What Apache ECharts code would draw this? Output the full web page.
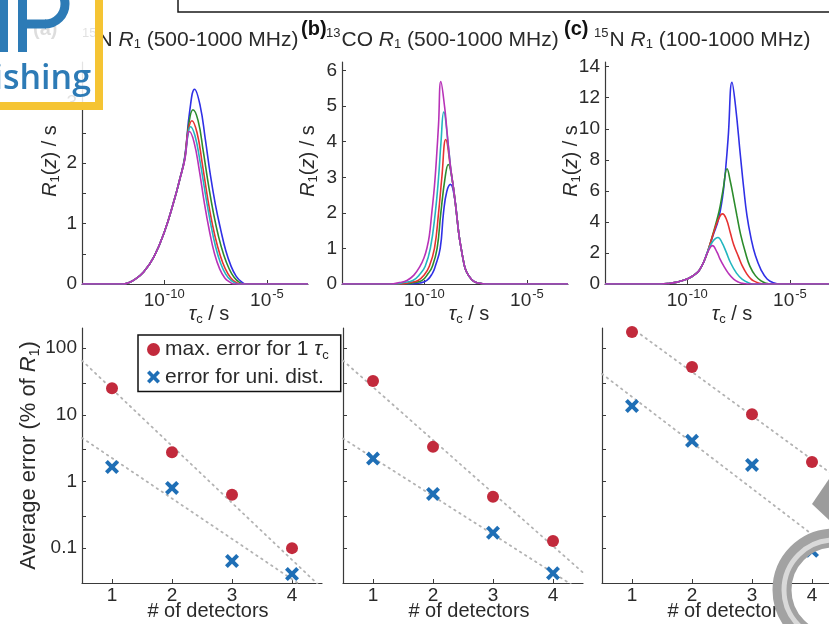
<!DOCTYPE html>
<html>
<head>
<meta charset="utf-8">
<script src="https://cdn.jsdelivr.net/npm/echarts@6.0.0/dist/echarts.min.js"></script>
<style>
html,body{margin:0;padding:0;background:#fff;}
#chart{width:829px;height:624px;}
</style>
</head>
<body>
<div id="chart"></div>
<script>
// ================= DATA =================
// Top row: detector sensitivities R1(z) vs log10(tau_c / s)
const tauTickExponents = [-10, -5];
const topYMax = [3.67, 6.24, 14.3];
const topYTicks = [[0,0.5,1,1.5,2,2.5,3,3.5],[0,1,2,3,4,5,6],[0,2,4,6,8,10,12,14]];
const topYLabels = [[0,1,2,3],[0,1,2,3,4,5,6],[0,2,4,6,8,10,12,14]];

// panel (a) 15N R1 (500-1000 MHz): common rising flank + individual tails
const aRise = [[-14,0],[-12,0],[-11.75,0.02],[-11.5,0.06],[-11,0.2],[-10.5,0.45],[-10,0.85],[-9.5,1.4],[-9.25,1.72]];
const aBlue = [[-9,2.1],[-8.75,2.88],[-8.52,3.22],[-8.25,2.95],[-8,2.4],[-7.75,1.8],[-7.5,1.3],[-7.25,0.9],[-7,0.55],[-6.75,0.3],[-6.5,0.13],[-6.25,0.04],[-6,0],[-3,0]];
const aGreen = [[-9,2.08],[-8.8,2.65],[-8.6,2.88],[-8.35,2.7],[-8.1,2.2],[-7.85,1.65],[-7.6,1.17],[-7.35,0.78],[-7.1,0.48],[-6.85,0.26],[-6.6,0.11],[-6.35,0.03],[-6.1,0],[-3,0]];
const aRed = [[-9,2.07],[-8.85,2.5],[-8.65,2.7],[-8.4,2.5],[-8.15,2.0],[-7.9,1.45],[-7.65,0.98],[-7.4,0.62],[-7.15,0.35],[-6.9,0.17],[-6.65,0.06],[-6.4,0.01],[-6.2,0],[-3,0]];
const aCyan = [[-9,2.06],[-8.85,2.45],[-8.72,2.6],[-8.5,2.45],[-8.25,2.02],[-8,1.5],[-7.75,1.02],[-7.5,0.62],[-7.25,0.34],[-7,0.16],[-6.75,0.06],[-6.5,0.01],[-6.3,0],[-3,0]];
const aMagenta = [[-9,2.05],[-8.77,2.52],[-8.55,2.35],[-8.3,1.9],[-8.05,1.35],[-7.8,0.88],[-7.55,0.5],[-7.3,0.25],[-7.05,0.1],[-6.8,0.03],[-6.6,0],[-3,0]];

// panel (b) 13CO R1 (500-1000 MHz): individual rising flanks + common falling flank
const bBlue = [[-14,0],[-10.7,0],[-10.2,0.03],[-9.87,0.1],[-9.6,0.3],[-9.46,0.5],[-9.22,1.0],[-9.06,2.0],[-8.9,2.6],[-8.72,2.8]];
const bGreen = [[-14,0],[-10.9,0],[-10.5,0.04],[-10.1,0.1],[-9.8,0.3],[-9.6,0.5],[-9.37,1.0],[-9.19,2.0],[-8.98,3.0],[-8.83,3.36]];
const bRed = [[-14,0],[-11.1,0],[-10.7,0.04],[-10.3,0.1],[-10,0.25],[-9.75,0.5],[-9.5,1.0],[-9.3,2.0],[-9.14,3.0],[-8.95,4.06]];
const bCyan = [[-14,0],[-11.4,0],[-11,0.04],[-10.55,0.1],[-10.2,0.28],[-9.95,0.5],[-9.7,1.0],[-9.46,2.0],[-9.3,3.0],[-9.18,4.0],[-9.05,4.83]];
const bMagenta = [[-14,0],[-11.66,0],[-11.2,0.04],[-10.84,0.1],[-10.5,0.25],[-10.2,0.5],[-10,0.75],[-9.87,1.0],[-9.75,1.35],[-9.63,2.0],[-9.5,2.75],[-9.4,3.55],[-9.3,4.5],[-9.19,5.69]];
const bFall = [[-9.1,5.45],[-9.0,4.95],[-8.9,4.35],[-8.8,3.75],[-8.7,3.2],[-8.6,2.8],[-8.5,2.35],[-8.4,1.85],[-8.3,1.35],[-8.2,1.0],[-8.1,0.68],[-8.0,0.43],[-7.85,0.25],[-7.6,0.08],[-7.3,0.02],[-7.0,0],[-3,0]];

// panel (c) 15N R1 (100-1000 MHz): common rising flank + individual tails
const cRise = [[-14,0],[-11.3,0],[-10.83,0.05],[-10.5,0.12],[-10,0.32],[-9.75,0.5],[-9.5,0.75],[-9.37,0.97],[-9.2,1.4]];
const cBlue = [[-9.0,2.1],[-8.75,3.1],[-8.47,4.2],[-8.23,6.1],[-8.01,9.35],[-7.82,13.0],[-7.65,11.5],[-7.41,8.28],[-7.25,6.2],[-7.09,4.4],[-6.9,3.0],[-6.68,1.83],[-6.4,0.9],[-6.11,0.32],[-5.8,0.08],[-5.46,0],[-3,0]];
const cGreen = [[-9.0,2.1],[-8.75,3.2],[-8.5,4.4],[-8.39,5.05],[-8.25,6.1],[-8.06,7.42],[-7.9,6.6],[-7.75,5.6],[-7.58,4.4],[-7.4,3.2],[-7.17,2.04],[-6.95,1.15],[-6.68,0.54],[-6.4,0.2],[-6.15,0.05],[-5.95,0],[-3,0]];
const cRed = [[-9.0,2.1],[-8.75,3.15],[-8.5,4.1],[-8.28,4.52],[-8.1,4.2],[-7.9,3.3],[-7.74,2.55],[-7.5,1.75],[-7.33,1.2],[-7.1,0.65],[-6.9,0.33],[-6.77,0.2],[-6.5,0.05],[-6.29,0],[-3,0]];
const cCyan = [[-9.0,2.1],[-8.75,2.75],[-8.5,3.0],[-8.3,2.65],[-8.1,2.05],[-7.9,1.4],[-7.6,0.7],[-7.33,0.32],[-7.05,0.1],[-6.78,0],[-3,0]];
const cMagenta = [[-9.0,2.05],[-8.77,2.47],[-8.55,2.05],[-8.4,1.6],[-8.23,1.18],[-8.0,0.7],[-7.74,0.32],[-7.5,0.12],[-7.3,0.04],[-7.09,0],[-3,0]];

// Bottom row: average error (% of R1) vs number of detectors
const detectors = [1, 2, 3, 4];
const aMaxErr = [25, 2.75, 0.63, 0.1];
const aUniErr = [1.65, 0.8, 0.064, 0.041];
const bMaxErr = [32, 3.3, 0.59, 0.128];
const bUniErr = [2.2, 0.65, 0.17, 0.042];
const cMaxErr = [174, 52, 10.2, 1.95];
const cUniErr = [13.5, 4.06, 1.77, 0.091];
// dotted trend lines: values at the two ends of the axis
const fitX = [0.5, 4.5];
const aMaxFit = [65, 0.025];
const aUniFit = [4.5, 0.017];
const bMaxFit = [65, 0.043];
const bUniFit = [4.4, 0.022];
const cMaxFit = [424, 1.0];
const cUniFit = [41, 0.073];
const errTicks = [0.1, 0.3, 1, 3, 10, 30, 100];
const errLabels = [0.1, 1, 10, 100];

// ================= STYLE / LAYOUT =================
const font = '"Liberation Sans", Arial, Helvetica, sans-serif';
const txt = '#2a2a2a';
const axc = '#3a3a3a';
const curveColors = ['#3030e6', '#2c8c2c', '#e63232', '#22b6bf', '#b832b8'];
const redDot = '#c22a3c';
const blueX = '#1f6fb6';
const xPath = 'path://M2,0 L5,3 L8,0 L10,2 L7,5 L10,8 L8,10 L5,7 L2,10 L0,8 L3,5 L0,2 Z';

const topGrid = [{left:82},{left:342},{left:605}].map(g => ({left:g.left, top:62, width:226, height:222}));
const botGrid = [{left:82},{left:343},{left:602}].map(g => ({left:g.left, top:328, width:240, height:255}));

const panelA = [aBlue, aGreen, aRed, aCyan, aMagenta].map(t => aRise.concat(t));
const panelB = [bBlue, bGreen, bRed, bCyan, bMagenta].map(l => l.concat(bFall.filter(p => p[0] > l[l.length-1][0] + 0.15)));
const panelC = [cBlue, cGreen, cRed, cCyan, cMagenta].map(t => cRise.concat(t));
const topPanels = [panelA, panelB, panelC];
const botPanels = [
  {max:aMaxErr, uni:aUniErr, maxFit:aMaxFit, uniFit:aUniFit},
  {max:bMaxErr, uni:bUniErr, maxFit:bMaxFit, uniFit:bUniFit},
  {max:cMaxErr, uni:cUniErr, maxFit:cMaxFit, uniFit:cUniFit}
];

const nameRich = {
  t: {fontSize:20, fontFamily:font, color:txt, lineHeight:24},
  i: {fontSize:20, fontFamily:font, color:txt, fontStyle:'italic', lineHeight:24},
  s: {fontSize:13, fontFamily:font, color:txt, lineHeight:12, verticalAlign:'bottom'}
};
const bigNameRich = {
  t: {fontSize:22, fontFamily:font, color:txt, lineHeight:26},
  i: {fontSize:22, fontFamily:font, color:txt, fontStyle:'italic', lineHeight:26},
  s: {fontSize:14, fontFamily:font, color:txt, lineHeight:13, verticalAlign:'bottom'}
};
const expRich = {
  b: {fontSize:19, fontFamily:font, color:txt, lineHeight:22, verticalAlign:'bottom'},
  s: {fontSize:13, fontFamily:font, color:txt, lineHeight:13, verticalAlign:'top', padding:[0,0,6,1]}
};

const grids = [], xAxes = [], yAxes = [], series = [];
const tauTicks = tauTickExponents.map(e => Math.pow(10, e));

topGrid.forEach((g, p) => {
  grids.push(Object.assign({containLabel:false, outerBoundsMode:'none'}, g));
  xAxes.push({
    type:'log', logBase:10, gridIndex:p, min:1e-14, max:1e-3,
    axisLine:{show:true, onZero:false, lineStyle:{color:axc, width:1.2}},
    axisTick:{show:true, inside:true, length:4, customValues:tauTicks, lineStyle:{color:axc}},
    axisLabel:{show:true, customValues:tauTicks, margin:4,
      formatter: v => '{b|10}{s|' + Math.round(Math.log10(v)) + '}', rich:expRich},
    splitLine:{show:false}, minorTick:{show:false},
    name:'{i|τ}{s|c}{t| / s}', nameLocation:'middle', nameGap:18, nameMoveOverlap:false,
    nameTextStyle:{rich:nameRich, padding:[0,0,0,28]}
  });
  yAxes.push({
    type:'value', gridIndex:p, min:0, max:topYMax[p],
    axisLine:{show:true, onZero:false, lineStyle:{color:axc, width:1.2}},
    axisTick:{show:true, inside:true, length:4, customValues:topYTicks[p], lineStyle:{color:axc}},
    axisLabel:{show:true, customValues:topYLabels[p], margin:5, fontSize:19, fontFamily:font, color:txt},
    splitLine:{show:false},
    name:'{i|R}{s|1}{t|(}{i|z}{t|) / s}', nameLocation:'middle', nameRotate:90, nameGap: p === 0 ? 20 : 22,
    nameMoveOverlap:false,
    nameTextStyle:{rich:nameRich, padding:[0,0,0,24]}
  });
  topPanels[p].forEach((pts, k) => {
    series.push({
      type:'line', xAxisIndex:p, yAxisIndex:p, silent:true,
      data: pts.map(q => [Math.pow(10, q[0]), q[1]]),
      symbol:'none', showSymbol:false, smooth:0.45,
      lineStyle:{width:1.6, color:curveColors[k]}, itemStyle:{color:curveColors[k]}, z:2 + k
    });
  });
});

botGrid.forEach((g, p) => {
  const gi = 3 + p;
  grids.push(Object.assign({containLabel:false, outerBoundsMode:'none'}, g));
  xAxes.push({
    type:'value', gridIndex:gi, min:0.5, max:4.5,
    axisLine:{show:true, onZero:false, lineStyle:{color:axc, width:1.2}},
    axisTick:{show:true, inside:true, length:4, customValues:detectors, lineStyle:{color:axc}},
    axisLabel:{show:true, customValues:detectors, margin:3, fontSize:19, fontFamily:font, color:txt},
    splitLine:{show:false},
    name:'# of detectors', nameLocation:'middle', nameGap:18, nameMoveOverlap:false,
    nameTextStyle:{fontSize:20, fontFamily:font, color:txt, padding:[0,0,0,12]}
  });
  yAxes.push({
    type:'log', logBase:10, gridIndex:gi, min:0.03, max:200,
    axisLine:{show:true, onZero:false, lineStyle:{color:axc, width:1.2}},
    axisTick:{show:true, inside:true, length:4, customValues:errTicks, lineStyle:{color:axc}},
    axisLabel:{show:p === 0, customValues:errLabels, margin:5, fontSize:19, fontFamily:font, color:txt,
      formatter: v => String(+(+v).toPrecision(3))},
    splitLine:{show:false}, minorTick:{show:false},
    name: p === 0 ? '{t|Average error (% of }{i|R}{s|1}{t|)}' : '', nameLocation:'middle', nameRotate:90,
    nameGap:40, nameMoveOverlap:false,
    nameTextStyle:{rich:bigNameRich}
  });
  const d = botPanels[p];
  [[d.maxFit], [d.uniFit]].forEach(f => {
    series.push({
      type:'line', xAxisIndex:gi, yAxisIndex:gi, silent:true, symbol:'none', showSymbol:false,
      data: fitX.map((x, i) => [x, f[0][i]]),
      lineStyle:{type:[1.5, 4.5], cap:'round', color:'#b3b3b3', width:1.8}, z:1
    });
  });
  series.push({
    type:'scatter', name:'maxErr', xAxisIndex:gi, yAxisIndex:gi, symbol:'circle', symbolSize:12,
    data: detectors.map((x, i) => [x, d.max[i]]), itemStyle:{color:redDot, opacity:1}, z:4
  });
  series.push({
    type:'scatter', name:'uniErr', xAxisIndex:gi, yAxisIndex:gi, symbol:xPath, symbolSize:14,
    data: detectors.map((x, i) => [x, d.uni[i]]), itemStyle:{color:blueX, opacity:1}, z:4
  });
});

const titleRich = {
  t: {fontSize:21, fontFamily:font, fill:txt, lineHeight:24, verticalAlign:'bottom'},
  i: {fontSize:21, fontFamily:font, fill:txt, fontStyle:'italic', lineHeight:24, verticalAlign:'bottom'},
  p: {fontSize:13, fontFamily:font, fill:txt, lineHeight:13, verticalAlign:'top', padding:[0,1,19,0]},
  b: {fontSize:13, fontFamily:font, fill:txt, lineHeight:13, verticalAlign:'bottom'}
};
function titleText(x, str) {
  return {type:'text', x:x, y:39, z:10, silent:true,
    style:{text:str, rich:titleRich, textAlign:'left', textVerticalAlign:'middle', verticalAlign:'middle', fill:txt}};
}
function tag(x, str) {
  return {type:'text', x:x, y:29, z:10, silent:true,
    style:{text:str, font:'bold 20px ' + font, fill:'#111', textAlign:'left', textVerticalAlign:'middle', verticalAlign:'middle'}};
}
const logoBlue = '#2d7bb6';
const graphics = [
  // caption box fragment at the top
  {type:'rect', shape:{x:178, y:-20, width:700, height:32}, style:{fill:'none', stroke:'#1a1a1a', lineWidth:1.5}, z:10, silent:true},
  tag(33, '(a)'), titleText(82, '{p|15}{t|N }{i|R}{b|1}{t| (500-1000 MHz)}'),
  tag(301, '(b)'), titleText(326, '{p|13}{t|CO }{i|R}{b|1}{t| (500-1000 MHz)}'),
  tag(564, '(c)'), titleText(594, '{p|15}{t|N }{i|R}{b|1}{t| (100-1000 MHz)}'),
  // publisher logo (top-left)
  {type:'rect', shape:{x:-10, y:-10, width:109, height:116}, style:{fill:'rgba(255,255,255,0.86)', stroke:'#f5c433', lineWidth:8}, z:50, silent:true},
  {type:'rect', shape:{x:0, y:-5, width:8, height:57}, style:{fill:logoBlue}, z:51, silent:true},
  {type:'rect', shape:{x:18, y:-5, width:9, height:57}, style:{fill:logoBlue}, z:51, silent:true},
  {type:'arc', shape:{cx:45, cy:4, r:20, startAngle:-Math.PI/2, endAngle:Math.PI/2}, style:{stroke:logoBlue, lineWidth:9, fill:'none'}, z:51, silent:true},
  {type:'line', shape:{x1:22, y1:24, x2:46, y2:24}, style:{stroke:logoBlue, lineWidth:9}, z:51, silent:true},
  {type:'text', x:91, y:79, z:51, silent:true, style:{text:'Publishing', font:'600 34px "Open Sans", sans-serif', fill:logoBlue, textAlign:'right', textVerticalAlign:'middle', verticalAlign:'middle'}},
  // grey watermark (bottom-right)
  {type:'polygon', shape:{points:[[812,504],[831,476],[831,522]]}, style:{fill:'#9c9c9c'}, z:50, silent:true},
  {type:'arc', shape:{cx:834, cy:590, r:52, startAngle:Math.PI*0.5, endAngle:Math.PI*1.6}, style:{stroke:'#a2a2a2', lineWidth:19, fill:'none'}, z:50, silent:true},
  {type:'arc', shape:{cx:834, cy:590, r:50, startAngle:Math.PI*0.5, endAngle:Math.PI*1.6}, style:{stroke:'#d9d9d9', lineWidth:5, fill:'none'}, z:51, silent:true}
];

const option = {
  animation:false,
  backgroundColor:'#ffffff',
  textStyle:{fontFamily:font},
  grid:grids, xAxis:xAxes, yAxis:yAxes, series:series,
  legend:{
    show:true, left:138, top:335, orient:'vertical', data:['maxErr','uniErr'], selectedMode:false,
    itemWidth:13, itemHeight:13, itemGap:5, padding:[4,12,4,9],
    borderColor:'#111', borderWidth:1.5, backgroundColor:'#fff',
    formatter: n => n === 'maxErr' ? '{t|max. error for 1 }{i|τ}{s|c}' : '{t|error for uni. dist.}',
    textStyle:{color:txt, fontFamily:font, fontSize:21, rich:{
      t:{fontSize:21, fontFamily:font, color:txt, lineHeight:24},
      i:{fontSize:21, fontFamily:font, color:txt, fontStyle:'italic', lineHeight:24},
      s:{fontSize:13, fontFamily:font, color:txt, lineHeight:12, verticalAlign:'bottom'}
    }}
  },
  graphic:{elements:graphics}
};

const chart = echarts.init(document.getElementById('chart'), null, {renderer:'canvas', width:829, height:624});
chart.setOption(option);
</script>
</body>
</html>
